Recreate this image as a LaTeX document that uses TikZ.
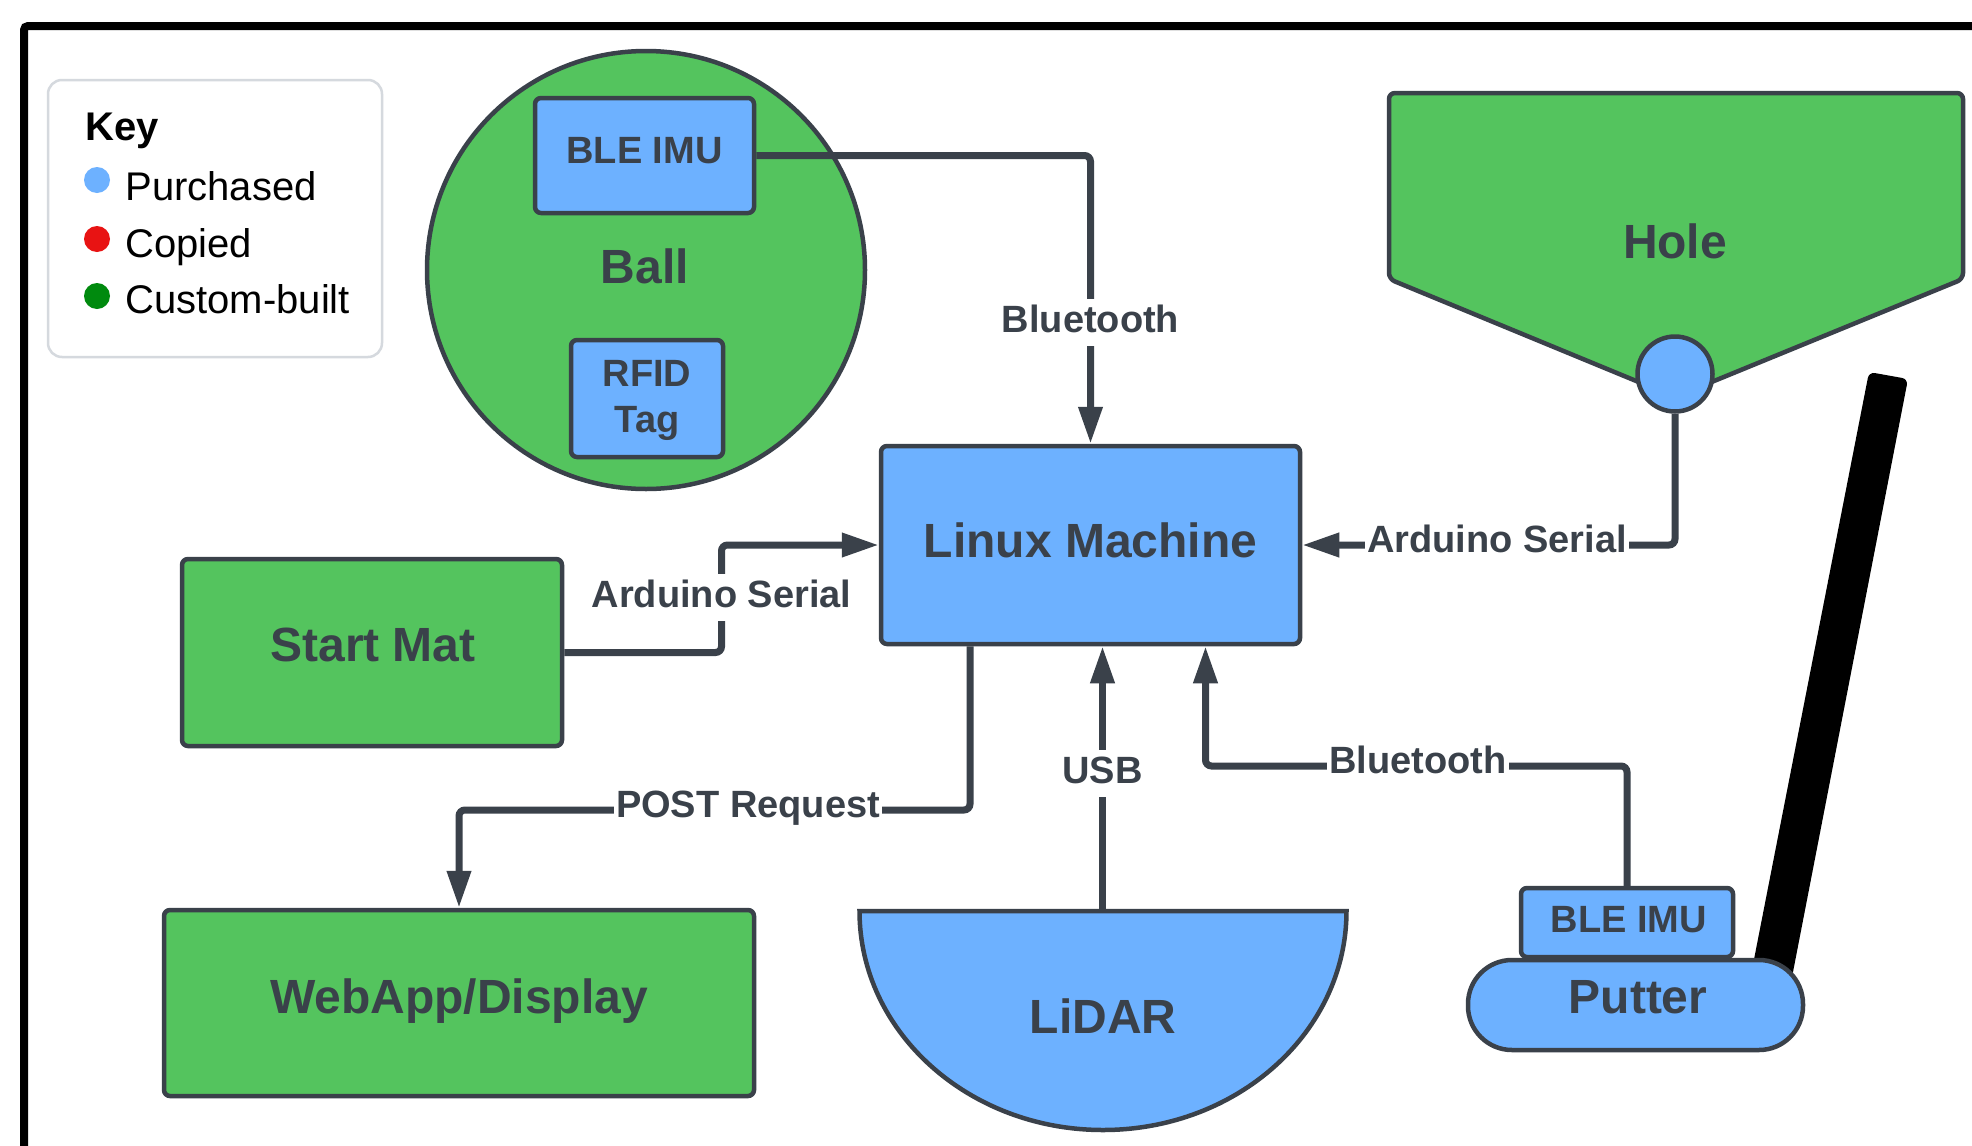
\documentclass[tikz,border=0pt]{standalone}
\usepackage{fontspec}
\setmainfont{Liberation Sans}
\usetikzlibrary{arrows.meta,calc}
\definecolor{ink}{HTML}{3A414A}
\definecolor{bluefill}{HTML}{6DB1FF}
\definecolor{greenfill}{HTML}{54C45E}
\definecolor{keyred}{HTML}{E81313}
\definecolor{keygreen}{HTML}{008A0E}
\definecolor{keyborder}{HTML}{D5D9DE}
\begin{document}
\begin{tikzpicture}[x=0.5pt,y=-0.5pt,
  outl/.style={draw=ink, line width=2.25pt},
  bluebox/.style={outl, fill=bluefill, rectangle, rounded corners=3pt, inner sep=0pt},
  greenbox/.style={outl, fill=greenfill, rectangle, rounded corners=3pt, inner sep=0pt},
  bigtxt/.style={text=ink, font=\fontsize{24}{28}\selectfont\bfseries, inner sep=0pt, anchor=base},
  midtxt/.style={text=ink, font=\fontsize{19}{23}\selectfont\bfseries, inner sep=0pt},
  conn/.style={draw=ink, line width=3.5pt, rounded corners=3pt},
  arr/.style={conn, -{Triangle[length=18.5pt,width=11.5pt]}},
  lbl/.style={text=ink, font=\fontsize{19}{23}\selectfont\bfseries, fill=white, inner xsep=1pt, inner ysep=2pt, text height=14.5pt, text depth=5pt, anchor=base},
  keytxt/.style={font=\fontsize{20}{24}\selectfont, text=black, anchor=base west, inner sep=0pt},
  keydot/.style={circle, minimum size=13pt, inner sep=0pt},
]
\useasboundingbox (0,0) rectangle (1972,1146);
\fill[white] (0,0) rectangle (1972,1146);
% frame
\draw[line width=4pt, black, rounded corners=2pt] (24,1146) -- (24,26) -- (1972,26);

% legend
\node[draw=keyborder, line width=1.25pt, rounded corners=7pt, fill=white, minimum width=167pt, minimum height=138.5pt, inner sep=0pt] (key) at (215,218.5) {};
\node[keytxt, font=\fontsize{20}{24}\selectfont\bfseries] (keyt) at (85,140) {Key};
\node[keydot, fill=bluefill] (dotb) at (97,180) {};
\node[keydot, fill=keyred] (dotr) at (97,239) {};
\node[keydot, fill=keygreen] (dotg) at (97,296) {};
\node[keytxt] (kp) at (125,200) {Purchased};
\node[keytxt] (kc) at (125,257) {Copied};
\node[keytxt] (kg) at (125,313) {Custom-built};

% ball
\node[outl, circle, fill=greenfill, minimum size=219pt, inner sep=0pt] (ball) at (646,270) {};
\node[bluebox, minimum width=109.5pt, minimum height=57.5pt] (bleball) at (644.5,155.5) {};
\node[midtxt, anchor=base] (bleballt) at (644.5,163) {BLE IMU};
\node[bigtxt] (ballt) at (645,283) {Ball};
\node[bluebox, minimum width=76pt, minimum height=58.5pt] (rfid) at (647,398.5) {};
\node[midtxt, align=center] (rfidt) at (647,400) {RFID\\Tag};

% linux
\node[bluebox, minimum width=209.5pt, minimum height=99pt] (linux) at (1090.5,545) {};
\node[bigtxt] (linuxt) at (1090.5,557) {Linux Machine};

% hole
\filldraw[outl, fill=greenfill, rounded corners=3pt] (1389,93) -- (1963,93) -- (1963,279) -- (1675,397) -- (1389,279) -- cycle;
\node[outl, circle, fill=bluefill, minimum size=37.5pt, inner sep=0pt] (holec) at (1675,374) {};
\node[bigtxt] (holet) at (1675,258) {Hole};

% start mat
\node[greenbox, minimum width=190pt, minimum height=93.5pt] (startmat) at (372,652.5) {};
\node[bigtxt] (startt) at (373,661) {Start Mat};

% webapp
\node[greenbox, minimum width=295pt, minimum height=93pt] (webapp) at (459,1003) {};
\node[bigtxt] (webt) at (459,1013) {WebApp/Display};

% lidar
\filldraw[outl, fill=bluefill] (859.5,911) -- (1346.5,911) arc[start angle=0, end angle=180, x radius=243.5, y radius=219] -- cycle;
\coordinate (lidartop) at (1102.5,911);
\node[bigtxt] (lidart) at (1103,1033) {LiDAR};

% putter
\fill[black, rounded corners=3pt] (1869,372) -- (1908,379) -- (1789.5,990) -- (1748,990) -- cycle;
\node[outl, fill=bluefill, rectangle, rounded corners=22pt, minimum width=167.5pt, minimum height=45pt, inner sep=0pt] (putter) at (1635.5,1005) {};
\node[bluebox, minimum width=106pt, minimum height=34.5pt] (bleput) at (1627,922.5) {};
\node[midtxt, anchor=base] (bleputt) at (1629,932) {BLE IMU};
\node[bigtxt] (puttert) at (1638,1013) {Putter};

% connectors
\draw[arr] (bleball.east) -| (linux.north);
\draw[arr] (holec.south) |- (linux.east);
\draw[arr] (startmat.east) -| ($(startmat.east)!.5!(linux.west)$) |- (linux.west);
\coordinate (postbend) at (970,810);
\draw[arr] (linux.south -| postbend) -- (postbend) -| (webapp.north);
\draw[arr] (lidartop) -- (lidartop |- linux.south);
\coordinate (btbend) at (1205.5,766);
\draw[arr] (bleput.north) |- (btbend) -- (btbend |- linux.south);

% labels
\node[lbl] (bt1) at (1090.5,332) {Bluetooth};
\node[lbl] (as2) at (1497,552) {Arduino Serial};
\node[lbl] (as1) at (721.5,607) {Arduino Serial};
\node[lbl] (post) at (748,817) {POST Request};
\node[lbl] (usb) at (1102.5,783) {USB};
\node[lbl] (bt2) at (1418,773) {Bluetooth};
\end{tikzpicture}
\end{document}
